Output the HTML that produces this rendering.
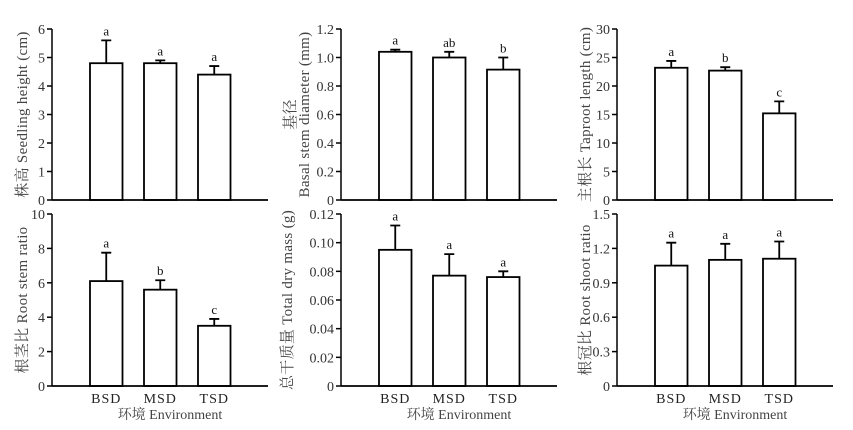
<!DOCTYPE html>
<html><head><meta charset="utf-8"><style>
body{margin:0;background:#fff;}
svg{display:block;font-family:"Liberation Serif","Noto Serif CJK SC",serif;}
</style></head><body>
<svg id="c" width="853" height="430"></svg>
<script>
const categories=["BSD","MSD","TSD"];
const p1Values=[4.8,4.8,4.4];const p1Err=[5.6,4.9,4.7];const p1Letters=["a","a","a"];const p1Ticks=["0","1","2","3","4","5","6"];
const p2Values=[1.04,1.0,0.915];const p2Err=[1.055,1.04,1.0];const p2Letters=["a","ab","b"];const p2Ticks=["0","0.2","0.4","0.6","0.8","1.0","1.2"];
const p3Values=[23.2,22.7,15.2];const p3Err=[24.4,23.3,17.3];const p3Letters=["a","b","c"];const p3Ticks=["0","5","10","15","20","25","30"];
const p4Values=[6.1,5.6,3.5];const p4Err=[7.75,6.15,3.9];const p4Letters=["a","b","c"];const p4Ticks=["0","2","4","6","8","10"];
const p5Values=[0.095,0.077,0.076];const p5Err=[0.112,0.092,0.080];const p5Letters=["a","a","a"];const p5Ticks=["0","0.02","0.04","0.06","0.08","0.10","0.12"];
const p6Values=[1.05,1.10,1.11];const p6Err=[1.25,1.24,1.26];const p6Letters=["a","a","a"];const p6Ticks=["0","0.3","0.6","0.9","1.2","1.5"];
const p1Max=6,p2Max=1.2,p3Max=30,p4Max=10,p5Max=0.12,p6Max=1.5;

const NS="http://www.w3.org/2000/svg";const svg=document.getElementById('c');
function mk(t,a,p){const e=document.createElementNS(NS,t);for(const k in a)e.setAttribute(k,a[k]);(p||svg).appendChild(e);return e;}
function panel(id,ax,y0,ytop,max,vals,errs,letters,ticks,titles,showX){
  const g=mk('g',{});
  
  
  const right=ax+216;
  const ys=v=>y0-(v/max)*(y0-ytop);
  const xs=i=>ax+38+i*54;
  ticks.forEach(t=>{const y=ys(parseFloat(t));
    const l=mk('line',{x1:ax-5,x2:ax,y1:y,y2:y,stroke:'#000','stroke-width':1.5},g);
    
    const tx=mk('text',{x:ax-7,y:y+5,'text-anchor':'end','font-size':14,fill:'#333'},g);tx.textContent=t;
    });
  const yl=mk('line',{x1:ax,x2:ax,y1:ytop,y2:y0,stroke:'#000','stroke-width':1.5},g);
  
  vals.forEach((v,i)=>{const x=xs(i),w=32.5,yv=ys(v),ye=ys(errs[i]),cx=x+w/2;
    const b=mk('rect',{x:x,y:yv,width:w,height:y0-yv,fill:'#fff',stroke:'#000','stroke-width':1.8},g);
    
    const e=mk('path',{d:`M${cx} ${yv}V${ye}M${cx-5} ${ye}H${cx+5}`,stroke:'#000','stroke-width':1.8,fill:'none'},g);
    
    const lt=mk('text',{x:cx,y:ye-5,'text-anchor':'middle','font-size':13,fill:'#111'},g);lt.textContent=letters[i];
    
    if(showX){const xt=mk('text',{x:cx,y:y0+17,'text-anchor':'middle','font-size':14,fill:'#222','letter-spacing':'1'},g);xt.textContent=categories[i];
      }
  });
  const xl=mk('line',{x1:ax,x2:right,y1:y0,y2:y0,stroke:'#000','stroke-width':1.8},g);
  
  titles.forEach((t,k)=>{const cx=t[1],cy=(y0+ytop)/2;
    const tt=mk('text',{x:cx,y:cy,'text-anchor':'middle','font-size':15,fill:'#444','letter-spacing':'0.3',transform:`rotate(-90 ${cx} ${cy})`},g);tt.textContent=t[0];
    });
  if(showX){const et=mk('text',{x:ax+118,y:y0+33,'text-anchor':'middle','font-size':14,fill:'#444'},g);et.textContent='环境 Environment';
    }
}
panel('panel-seedling-height',52,200,29,p1Max,p1Values,p1Err,p1Letters,p1Ticks,[['株高 Seedling height (cm)',27]],false);
panel('panel-basal-diameter',341,200,29,p2Max,p2Values,p2Err,p2Letters,p2Ticks,[['基径',295],['Basal stem diameter (mm)',309]],false);
panel('panel-taproot-length',617,200,29,p3Max,p3Values,p3Err,p3Letters,p3Ticks,[['主根长 Taproot length (cm)',590]],false);
panel('panel-root-stem-ratio',52,386,214,p4Max,p4Values,p4Err,p4Letters,p4Ticks,[['根茎比 Root stem ratio',27]],true);
panel('panel-total-dry-mass',341,386,214,p5Max,p5Values,p5Err,p5Letters,p5Ticks,[['总干质量 Total dry mass (g)',292]],true);
panel('panel-root-shoot-ratio',617,386,214,p6Max,p6Values,p6Err,p6Letters,p6Ticks,[['根冠比 Root shoot ratio',590]],true);
</script>
</body></html>
